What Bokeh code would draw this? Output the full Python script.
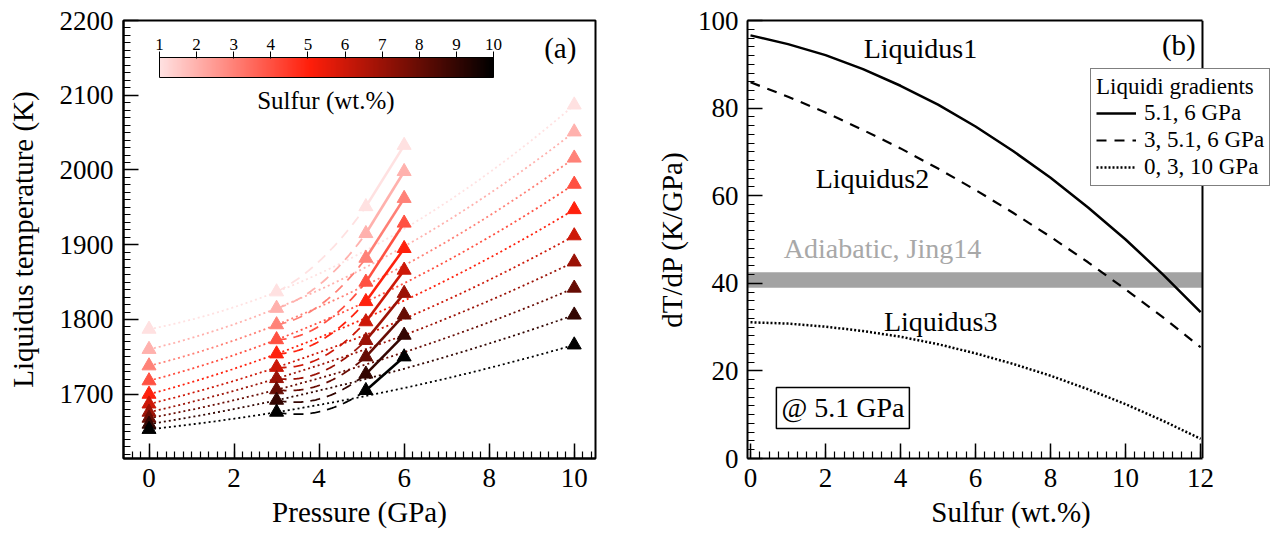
import numpy as np
from bokeh.plotting import figure
from bokeh.models import (ColumnDataSource, LinearColorMapper, ColorBar, FixedTicker, LinearAxis,
                          SingleIntervalTicker, Label, Legend, LegendItem, BoxAnnotation, Range1d, Span)
from bokeh.layouts import row
from bokeh.embed import file_html
from bokeh.resources import INLINE
from bokeh.transform import linear_cmap

FONT = "Liberation Serif"

# ---------------- data: panel (a) ----------------
sulfur_levels = [1, 2, 3, 4, 5, 6, 7, 8, 9, 10]
pressures = [0, 3, 5.1, 6, 10]
T_P0 = [1787, 1760, 1738, 1718, 1700, 1687, 1676, 1668, 1660, 1653]
T_P3 = [1837, 1815, 1793, 1773, 1754, 1736, 1721, 1706, 1692, 1676]
T_P51 = [1951, 1915, 1882, 1850, 1824, 1797, 1772, 1750, 1727, 1705]
T_P6 = [2033, 1998, 1962, 1929, 1895, 1866, 1835, 1806, 1779, 1750]
T_P10 = [2087, 2051, 2016, 1981, 1947, 1912, 1877, 1842, 1806, 1766]

# ---------------- data: panel (b) ----------------
sulfur_b = [0, 1, 2, 3, 4, 5, 6, 7, 8, 9, 10, 11, 12]
grad_liq1 = [96.6, 94.6, 92.1, 88.9, 85.1, 80.8, 75.8, 70.2, 64.1, 57.3, 50.0, 42.0, 33.4]
grad_liq2 = [85.9, 82.6, 79.0, 75.0, 70.8, 66.2, 61.3, 56.1, 50.6, 44.8, 38.6, 32.2, 25.4]
grad_liq3 = [31.1, 30.8, 30.1, 29.1, 27.8, 26.1, 24.0, 21.6, 18.9, 15.8, 12.4, 8.6, 4.5]
adiabat_low, adiabat_high = 39, 42.5
legend_labels = ["5.1, 6 GPa", "3, 5.1, 6 GPa", "0, 3, 10 GPa"]

# ---------------- colour map ----------------
anch_t = [0.0, 0.45, 1.0]
anch_r = [255, 255, 0]
anch_g = [225, 30, 0]
anch_b = [225, 10, 0]
tt = np.linspace(0, 1, 256)
palette = ["#%02x%02x%02x" % (int(round(np.interp(v, anch_t, anch_r))),
                              int(round(np.interp(v, anch_t, anch_g))),
                              int(round(np.interp(v, anch_t, anch_b)))) for v in tt]
mapper = LinearColorMapper(palette=palette, low=1, high=10)


def level_color(s):
    return palette[int(round((s - 1) / 9 * 255))]


def style_axis(ax):
    ax.axis_line_color = "black"
    ax.axis_line_width = 2
    ax.major_tick_in = 15
    ax.major_tick_out = 0
    ax.minor_tick_in = 7
    ax.minor_tick_out = 0
    ax.major_tick_line_width = 1.5
    ax.minor_tick_line_width = 1.2
    ax.major_label_text_font = FONT
    ax.major_label_text_font_size = "27px"
    ax.major_label_text_color = "black"
    ax.axis_label_text_font = FONT
    ax.axis_label_text_font_size = "29px"
    ax.axis_label_text_font_style = "normal"
    ax.axis_label_text_color = "black"


def style(p):
    style_axis(p.xaxis[0])
    style_axis(p.yaxis[0])
    p.xgrid.visible = False
    p.ygrid.visible = False
    p.outline_line_color = "black"
    p.outline_line_width = 2
    p.outline_line_alpha = 1
    p.xaxis[0].major_label_standoff = 10
    p.xaxis[0].axis_label_standoff = 6


# ================= panel (a) =================
pa = figure(width=640, height=539, x_range=Range1d(-0.6, 10.5), y_range=Range1d(1614, 2200),
            output_backend="svg", toolbar_location=None,
            min_border_left=123, min_border_right=45, min_border_top=20, min_border_bottom=81)
style(pa)
pa.xaxis[0].ticker = SingleIntervalTicker(interval=2, num_minor_ticks=10)
pa.yaxis[0].ticker = SingleIntervalTicker(interval=100, num_minor_ticks=10)
pa.xaxis[0].axis_label = "Pressure (GPa)"
pa.yaxis[0].axis_label = "Liquidus temperature (K)"
pa.yaxis[0].major_label_standoff = 10
pa.yaxis[0].axis_label_standoff = 18

p0, p3, p51, p6, p10 = pressures
for i, s in enumerate(sulfur_levels):
    col = level_color(s)
    c_dot = np.polyfit([p0, p3, p10], [T_P0[i], T_P3[i], T_P10[i]], 2)
    xs = np.linspace(p0, p10, 150)
    pa.line(xs, np.polyval(c_dot, xs), line_color=col, line_dash="2 3", line_width=1.8)
    c_dash = np.polyfit([p3, p51, p6], [T_P3[i], T_P51[i], T_P6[i]], 2)
    xs2 = np.linspace(p3, p51, 80)
    pa.line(xs2, np.polyval(c_dash, xs2), line_color=col, line_dash="10 7", line_width=1.8)
    pa.line([p51, p6], [T_P51[i], T_P6[i]], line_color=col, line_width=2.6)

mP, mT, mS = [], [], []
for Tarr, P in zip([T_P0, T_P3, T_P51, T_P6, T_P10], pressures):
    for s, T in zip(sulfur_levels, Tarr):
        mP.append(P)
        mT.append(T)
        mS.append(s)
src = ColumnDataSource(dict(P=mP, T=mT, S=mS))
cmap = linear_cmap("S", palette, 1, 10)
pa.scatter("P", "T", marker="triangle", size=14, fill_color=cmap, line_color=cmap, source=src)

cb_bar = ColorBar(color_mapper=mapper, orientation="horizontal", location=(36, 381),
                  width=334, height=20, padding=0, margin=0, ticker=FixedTicker(ticks=[]),
                  bar_line_color="black", bar_line_width=1, background_fill_alpha=0,
                  border_line_color=None, major_tick_line_color=None, minor_tick_line_color=None)
cb_tick = ColorBar(color_mapper=mapper, orientation="horizontal", location=(36, 400),
                   width=334, height=7, padding=0, margin=0, ticker=FixedTicker(ticks=sulfur_levels),
                   scale_alpha=0, bar_line_color=None, background_fill_alpha=0, border_line_color=None,
                   major_tick_in=7, major_tick_out=0, major_tick_line_color="black",
                   major_tick_line_width=1, minor_tick_line_color=None, label_standoff=0,
                   major_label_text_font_size="1px", major_label_text_alpha=0)
cb_lab = ColorBar(color_mapper=mapper, orientation="horizontal", location=(36, 406),
                  width=334, height=4, padding=0, margin=0, ticker=FixedTicker(ticks=sulfur_levels),
                  scale_alpha=0, bar_line_color=None, background_fill_alpha=0, border_line_color=None,
                  major_tick_line_color=None, minor_tick_line_color=None, label_standoff=3,
                  major_label_text_font=FONT, major_label_text_font_size="17px",
                  major_label_text_color="black")
pa.add_layout(cb_bar)
pa.add_layout(cb_tick)
pa.add_layout(cb_lab)
pa.add_layout(Label(x=4.16, y=2093, text="Sulfur (wt.%)", text_font=FONT, text_font_size="25px",
                    text_align="center", text_baseline="middle", text_color="black"))
pa.add_layout(Label(x=10.05, y=2163, text="(a)", text_font=FONT, text_font_size="29px",
                    text_align="right", text_baseline="middle", text_color="black"))

# ================= panel (b) =================
xb_lo, xb_edge, xb_hi = -0.08, 12.05, 13.97
pb = figure(width=638, height=539, x_range=Range1d(xb_lo, xb_hi), y_range=Range1d(0, 100),
            output_backend="svg", toolbar_location=None,
            min_border_left=107, min_border_right=4, min_border_top=20, min_border_bottom=81)
style(pb)
pb.outline_line_color = None
pb.xaxis[0].ticker = SingleIntervalTicker(interval=2, num_minor_ticks=8)
pb.xaxis[0].bounds = (xb_lo, xb_edge)
pb.yaxis[0].ticker = SingleIntervalTicker(interval=20, num_minor_ticks=10)
pb.xaxis[0].axis_label = "Sulfur (wt.%)"
pb.yaxis[0].axis_label = "dT/dP (K/GPa)"
pb.yaxis[0].major_label_standoff = 9
pb.yaxis[0].axis_label_standoff = 7
top_ax = LinearAxis(ticker=FixedTicker(ticks=[]), bounds=(xb_lo, xb_edge), axis_line_color="black",
                    axis_line_width=2, major_tick_line_color=None, minor_tick_line_color=None,
                    major_label_text_font_size="1px", major_label_standoff=0)
pb.add_layout(top_ax, "above")

pb.add_layout(BoxAnnotation(bottom=adiabat_low, top=adiabat_high, left=xb_lo, right=xb_edge,
                            fill_color="#a3a3a3", fill_alpha=1, line_color=None, level="underlay"))
r1 = pb.line(sulfur_b, grad_liq1, line_color="black", line_width=2.5)
r2 = pb.line(sulfur_b, grad_liq2, line_color="black", line_width=2.2, line_dash="10 8")
r3 = pb.line(sulfur_b, grad_liq3, line_color="black", line_width=2.5, line_dash="2 2")
pb.add_layout(Span(location=xb_edge, dimension="height", line_color="black", line_width=2))

leg = Legend(items=[LegendItem(label=legend_labels[0], renderers=[r1]),
                    LegendItem(label=legend_labels[1], renderers=[r2]),
                    LegendItem(label=legend_labels[2], renderers=[r3])],
             location=(343, 272), title="Liquidi gradients",
             title_text_font=FONT, title_text_font_size="23px", title_text_font_style="normal",
             title_text_color="black", label_text_color="black",
             title_standoff=0, label_text_font=FONT, label_text_font_size="23px",
             glyph_width=40, glyph_height=24, label_height=24, label_standoff=8, spacing=1,
             padding=5, margin=0, border_line_color="black", border_line_width=1.5,
             background_fill_color="white", background_fill_alpha=1)
pb.add_layout(leg)

for txt, x, y, col in [("Liquidus1", 4.53, 93.6, "black"), ("Liquidus2", 3.25, 63.9, "black"),
                       ("Liquidus3", 5.07, 31.2, "black"), ("Adiabatic, Jing14", 3.52, 47.9, "#a8a8a8")]:
    pb.add_layout(Label(x=x, y=y, text=txt, text_font=FONT, text_font_size="28px",
                        text_align="center", text_baseline="middle", text_color=col))
pb.add_layout(Label(x=11.87, y=94.3, text="(b)", text_font=FONT, text_font_size="29px",
                    text_align="right", text_baseline="middle", text_color="black"))
pb.add_layout(Label(x=0.69, y=6.85, text="@ 5.1 GPa", text_font=FONT, text_font_size="28px",
                    text_color="black", border_line_color="black", border_line_width=1.5,
                    background_fill_color="white", padding=5))

page = row(pa, pb, spacing=0)
open("out.html", "w").write(file_html(page, INLINE))
